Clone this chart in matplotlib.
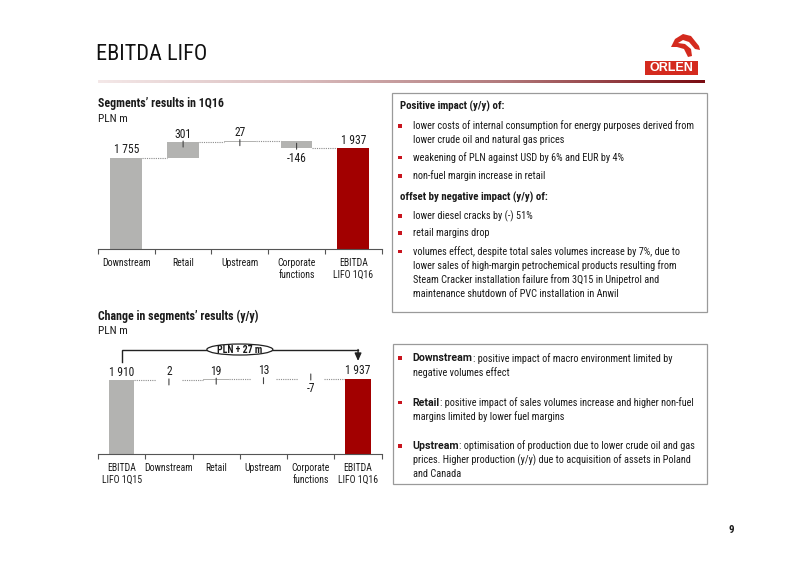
import matplotlib
matplotlib.use("Agg")
import matplotlib.pyplot as plt
import numpy as np
from matplotlib.patches import Rectangle, Ellipse, Polygon
from matplotlib.colors import LinearSegmentedColormap
from matplotlib.transforms import offset_copy

plt.rcParams['font.family'] = ['Roboto Condensed', 'Archivo Narrow', 'Liberation Sans', 'DejaVu Sans']

# ---------------- data ----------------
top_categories = ['Downstream', 'Retail', 'Upstream', 'Corporate\nfunctions', 'EBITDA\nLIFO 1Q16']
top_values = [1755, 301, 27, -146, 1937]
top_labels = ['1 755', '301', '27', '-146', '1 937']

bottom_categories = ['EBITDA\nLIFO 1Q15', 'Downstream', 'Retail', 'Upstream', 'Corporate\nfunctions', 'EBITDA\nLIFO 1Q16']
bottom_values = [1910, 2, 19, 13, -7, 1937]
bottom_labels = ['1 910', '2', '19', '13', '-7', '1 937']
bracket_label = 'PLN + 27 m'

box1_lines = [
    ('h', 'Positive impact (y/y) of:'),
    ('b', 'lower costs of internal consumption for energy purposes derived from'),
    ('c', 'lower crude oil and natural gas prices'),
    ('b', 'weakening of PLN against USD by 6% and EUR by 4%'),
    ('b', 'non-fuel margin increase in retail'),
    ('h', 'offset by negative impact (y/y) of:'),
    ('b', 'lower diesel cracks by (-) 51%'),
    ('b', 'retail margins drop'),
    ('b', 'volumes effect, despite total sales volumes increase by 7%, due to'),
    ('c', 'lower sales of high-margin petrochemical products resulting from'),
    ('c', 'Steam Cracker installation failure from 3Q15 in Unipetrol and'),
    ('c', 'maintenance shutdown of PVC installation in Anwil'),
]
box1_y = [106.7, 126, 140, 157.7, 176, 197.3, 216, 233.3, 251.7, 265.7, 280, 294]

box2_items = [
    ('Downstream', ': positive impact of macro environment limited by', ['negative volumes effect']),
    ('Retail', ': positive impact of sales volumes increase and higher non-fuel', ['margins limited by lower fuel margins']),
    ('Upstream', ': optimisation of production due to lower crude oil and gas',
     ['prices. Higher production (y/y) due to acquisition of assets in Poland', 'and Canada']),
]
box2_y = [358.3, 402.7, 446]

GRAY = '#b3b3b1'
RED = '#a20000'
TXT = '#1a1a1a'
BUL = '#c8141e'
FS = 7.4       # body text
FSB = 7.8      # bold headers
FST = 7.0      # category labels
FSV = 8.3      # value labels

W, H = 800, 565
fig = plt.figure(figsize=(W / 100, H / 100), dpi=100)


def px_axes(x0, y0, x1, y1):
    return fig.add_axes([x0 / W, 1 - y1 / H, (x1 - x0) / W, (y1 - y0) / H])


def waterfall(ax, cats, vals, labels, ymax, bar_w):
    n = len(cats)
    ax.set_xlim(-0.5, n - 0.5)
    ax.set_ylim(0, ymax)
    bottoms, tops = [], []
    cum = 0
    for i, v in enumerate(vals):
        if i == 0:
            b, t = 0, v
            cum = v
        elif i == n - 1:
            b, t = 0, v
        else:
            b, t = min(cum, cum + v), max(cum, cum + v)
            cum += v
        bottoms.append(b)
        tops.append(t)
    colors = [GRAY] * (n - 1) + [RED]
    heights = [t - b for b, t in zip(bottoms, tops)]
    ax.bar(range(n), heights, bottom=bottoms, width=bar_w, color=colors, edgecolor='none', zorder=2)
    # connectors
    level = vals[0]
    for i in range(n - 1):
        if i > 0:
            level = level + vals[i]
        ax.plot([i + bar_w / 2, i + 1 - bar_w / 2], [level, level], ls=(0, (1, 1)),
                color='#8c8c8c', lw=0.8, zorder=1)
    # labels + leaders
    for i, (v, lab) in enumerate(zip(vals, labels)):
        pos = (v >= 0) or i in (0, n - 1)
        yref = tops[i] if pos else bottoms[i]
        dy = 8 if pos else -10
        ax.annotate(lab, xy=(i, yref), xytext=(0, dy), textcoords='offset pixels',
                    ha='center', va='center', fontsize=FSV, color=TXT)
        if 0 < i < n - 1:
            s = 1 if pos else -1
            tr = offset_copy(ax.transData, fig=fig, x=0, y=-5 * s, units='dots')
            ax.annotate('', xy=(i, yref), xycoords=tr, xytext=(0, 6 * s), textcoords='offset pixels',
                        arrowprops=dict(arrowstyle='-', color='#444444', lw=0.8, shrinkA=0, shrinkB=0),
                        zorder=3)
    for s in ['top', 'left', 'right']:
        ax.spines[s].set_visible(False)
    ax.spines['bottom'].set_color('#555555')
    ax.spines['bottom'].set_linewidth(0.8)
    ax.set_yticks([])
    ax.set_xticks(np.arange(-0.5, n, 1.0))
    ax.set_xticklabels([])
    ax.tick_params(axis='x', which='major', length=3.5, direction='out', color='#555555', width=0.8)
    ax.set_xticks(range(n), minor=True)
    ax.set_xticklabels(cats, minor=True, fontsize=FST, color=TXT, linespacing=1.2)
    ax.tick_params(axis='x', which='minor', length=0, pad=6.5)
    ax.patch.set_alpha(0)
    return bottoms, tops


# top chart
ax1 = px_axes(98, 120, 381.7, 249)
waterfall(ax1, top_categories, top_values, top_labels, 2480, 0.56)

# bottom chart
ax2 = px_axes(98, 340, 381.7, 454)
b2, t2 = waterfall(ax2, bottom_categories, bottom_values, bottom_labels, 2943, 0.54)
dpp = 2943 / 114.0          # data units per pixel
dpx = 6 / 283.7             # category units per pixel
n2 = len(bottom_values)
y_start = t2[0] + 18 * dpp
y_line = t2[0] + 30.5 * dpp
y_tip = t2[-1] + 18 * dpp
ax2.plot([0, 0, n2 - 1, n2 - 1], [y_start, y_line, y_line, y_line], color='#222222', lw=1.0,
         clip_on=False, solid_joinstyle='miter', zorder=4)
ax2.annotate('', xy=(n2 - 1, y_tip), xytext=(n2 - 1, y_line),
             arrowprops=dict(arrowstyle='-|>,head_length=0.45,head_width=0.2', color='#222222', lw=1.0,
                             shrinkA=0, shrinkB=0), annotation_clip=False, zorder=4)
ell = Ellipse(((n2 - 1) / 2, y_line), width=66 * dpx, height=11 * dpp, facecolor='white',
              edgecolor='#222222', lw=0.9, clip_on=False, zorder=5)
ax2.add_patch(ell)
ax2.text((n2 - 1) / 2, y_line, bracket_label, ha='center', va='center', fontsize=7.1,
         fontweight='bold', color=TXT, zorder=6)

# ---------------- overlay ----------------
ov = fig.add_axes([0, 0, 1, 1])
grad = np.linspace(0, 1, 256).reshape(1, -1)
cmap = LinearSegmentedColormap.from_list('g', ['#f4e8e8', '#d9bcbd', '#b27a7c', '#7a0c12'])
ov.imshow(grad, cmap=cmap, aspect='auto', extent=[98, 705, 83, 80], zorder=1)
ov.set_xlim(0, W)
ov.set_ylim(H, 0)
ov.axis('off')

ov.text(96, 54, 'EBITDA LIFO', fontsize=16, color='#111111', va='center', ha='left')

# logo
ov.add_patch(Rectangle((645, 60.7), 53, 14.3, facecolor='#d42a1e', edgecolor='none'))
ov.text(671.5, 68.2, 'ORLEN', fontsize=9, fontweight='bold', color='white', ha='center', va='center',
        family=['Liberation Sans', 'DejaVu Sans'])
eagle = [(671, 47), (675, 39), (683, 34), (691, 36), (699, 46), (700, 50), (695, 49), (689, 42),
         (683, 40), (678, 43), (685, 44), (691, 49), (692, 56), (688, 57), (684, 49), (677, 47)]
ov.add_patch(Polygon(eagle, closed=True, facecolor='#d42a1e', edgecolor='none'))

# section titles
ov.text(98, 104, "Segments’ results in 1Q16", fontsize=FS + 1.2, fontweight='bold', color=TXT, va='center')
ov.text(98, 119, 'PLN m', fontsize=FS + 0.8, color=TXT, va='center')
ov.text(98, 316, "Change in segments’ results (y/y)", fontsize=FS + 1.2, fontweight='bold', color=TXT, va='center')
ov.text(98, 330.5, 'PLN m', fontsize=FS + 0.8, color=TXT, va='center')

# boxes
ov.add_patch(Rectangle((392, 93), 315, 219, facecolor='white', edgecolor='#9a9a9a', lw=0.9, zorder=0))
ov.add_patch(Rectangle((393, 344), 314, 140, facecolor='white', edgecolor='#9a9a9a', lw=0.9, zorder=0))


def bullet(x, y):
    ov.add_patch(Rectangle((x - 1.7, y - 1.9), 3.4, 3.4, facecolor=BUL, edgecolor='none', zorder=3))


for (kind, txt), y in zip(box1_lines, box1_y):
    if kind == 'h':
        ov.text(400, y, txt, fontsize=FSB, fontweight='bold', color=TXT, va='center')
    else:
        if kind == 'b':
            bullet(400, y)
        ov.text(412.7, y, txt, fontsize=FS, color=TXT, va='center')

renderer = fig.canvas.get_renderer()
for (head, rest, conts), y in zip(box2_items, box2_y):
    bullet(400, y)
    t = ov.text(412.7, y, head, fontsize=7.6, fontweight='bold', color=TXT, va='center',
                family=['Roboto', 'Liberation Sans', 'DejaVu Sans'])
    w = t.get_window_extent(renderer).width
    ov.text(412.7 + w, y, rest, fontsize=FS, color=TXT, va='center')
    for k, c in enumerate(conts):
        ov.text(412.7, y + 14 * (k + 1) - (0.4 if k else 0), c, fontsize=FS, color=TXT, va='center')

ov.text(731, 530, '9', fontsize=FS + 0.4, fontweight='bold', color=TXT, ha='center', va='center')

fig.savefig('out.png', dpi=100)
